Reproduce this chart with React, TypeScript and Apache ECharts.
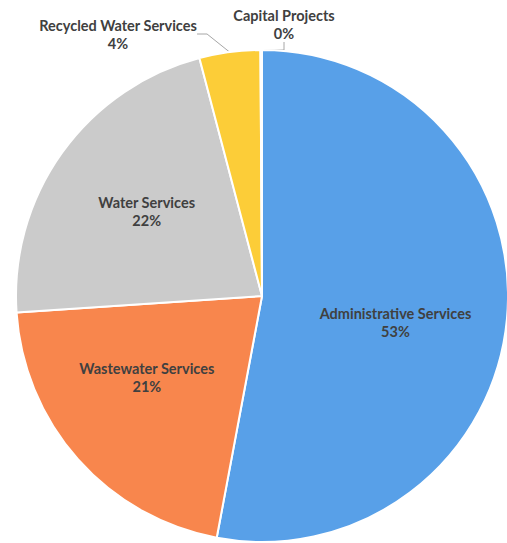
import React, { useEffect, useRef } from "react";
import * as echarts from "echarts";

const categories = [
  "Administrative Services",
  "Wastewater Services",
  "Water Services",
  "Recycled Water Services",
  "Capital Projects",
];
const values = [53, 21, 22, 4, 0.1];
const colors = ["#58a0e8", "#f8864d", "#cbcbcb", "#fccd38", "#7aa6d8"];
const outsideLabels = [false, false, false, true, true];

// label nudges (inside) / anchor positions (outside)
const labelPlacement: any[] = [
  { dx: 8, dy: 15 },
  { dx: -21, dy: -2 },
  { dx: -13, dy: -11 },
  { x: 118, y: 34 },
  { x: 284, y: 24 },
];

export default function App() {
  const ref = useRef<HTMLDivElement>(null);
  useEffect(() => {
    if (!ref.current) return;
    const chart = echarts.init(ref.current, undefined, { renderer: "svg" });
    chart.setOption({
      animation: false,
      backgroundColor: "#ffffff",
      series: [
        {
          type: "pie",
          center: [262, 296],
          radius: 246,
          startAngle: 90,
          clockwise: true,
          percentPrecision: 0,
          avoidLabelOverlap: false,
          itemStyle: { borderColor: "#ffffff", borderWidth: 2 },
          label: {
            fontFamily: "Lato",
            fontWeight: "bold",
            fontSize: 14.5,
            color: "#404040",
            lineHeight: 18,
            align: "center",
            formatter: "{b}\n{d}%",
          },
          labelLine: {
            lineStyle: { color: "#a6a6a6", width: 1 },
            length: 6,
            length2: 10,
          },
          labelLayout: (p: any) => {
            const pl = labelPlacement[p.dataIndex];
            if (pl.x !== undefined) {
              return { x: pl.x, y: pl.y, align: "center", verticalAlign: "middle" };
            }
            return { dx: pl.dx, dy: pl.dy };
          },
          data: categories.map((name, i) => ({
            name,
            value: values[i],
            itemStyle: { color: colors[i] },
            label: { position: outsideLabels[i] ? "outside" : "inside" },
            labelLine: { show: outsideLabels[i] },
          })),
        },
      ],
    });
    return () => chart.dispose();
  }, []);
  return (
    <div
      ref={ref}
      style={{ position: "fixed", left: 0, top: 0, width: 507, height: 543 }}
    />
  );
}
